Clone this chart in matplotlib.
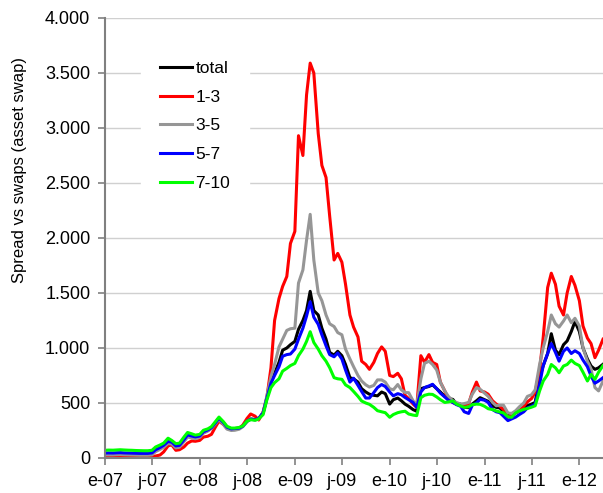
import pandas as pd
import matplotlib.pyplot as plt
from matplotlib.ticker import FuncFormatter

plt.rcParams['font.family'] = ['Liberation Sans', 'DejaVu Sans']

# semi-monthly observations, jan 2007 - apr 2012
dates = pd.date_range('2007-01-01', periods=127, freq='SMS')

total = [40, 40, 40, 42, 43, 41, 40, 39, 38, 37, 37, 37, 40,
         68, 88, 108, 142, 138, 102, 108, 158, 200, 192, 185, 195,
         232, 250, 272, 315, 358, 318, 275, 262, 265, 270, 290, 335,
         355, 350, 360, 410, 545, 690, 770, 870, 980, 1000, 1030, 1060,
         1170, 1250, 1340, 1515, 1340, 1300, 1180, 1080, 960, 935, 970, 930,
         850, 730, 720, 690, 630, 600, 580, 570, 565, 600, 585, 490,
         530, 545, 520, 490, 470, 440, 425, 630, 640, 650, 665, 630,
         600, 560, 540, 533, 490, 490, 460, 458, 490, 520, 548, 530,
         515, 475, 460, 455, 420, 385, 395, 415, 430, 460, 475, 490,
         505, 730, 840, 950, 1130, 980, 940, 1030, 1064, 1150, 1240, 1150,
         1000, 900, 836, 806, 820, 852]

y1_3 = [12, 12, 12, 12, 13, 12, 12, 11, 10, 10, 10, 10, 11,
        18, 27, 55, 110, 120, 70, 75, 100, 135, 155, 152, 160,
        190, 198, 215, 280, 335, 305, 268, 262, 268, 270, 300, 360,
        400, 380, 345, 420, 545, 820, 1250, 1450, 1560, 1650, 1950, 2060,
        2930, 2750, 3300, 3590, 3500, 2950, 2660, 2550, 2200, 1800, 1860, 1780,
        1580, 1300, 1190, 1100, 880, 850, 806, 870, 950, 1010, 970, 750,
        740, 770, 720, 570, 540, 490, 460, 930, 870, 940, 870, 850,
        690, 610, 530, 505, 490, 480, 475, 495, 600, 690, 610, 600,
        580, 520, 490, 470, 440, 370, 395, 410, 427, 470, 510, 540,
        600, 800, 1100, 1550, 1680, 1579, 1380, 1300, 1500, 1650, 1570, 1430,
        1200, 1090, 1040, 912, 980, 1080]

y3_5 = [28, 28, 28, 30, 31, 29, 28, 27, 26, 25, 25, 25, 28,
        58, 78, 98, 132, 128, 92, 98, 148, 190, 182, 175, 188,
        225, 245, 268, 310, 350, 305, 262, 250, 252, 262, 285, 330,
        355, 345, 355, 415, 560, 740, 850, 1010, 1080, 1160, 1175, 1180,
        1590, 1710, 1980, 2215, 1800, 1500, 1430, 1300, 1220, 1195, 1140, 1120,
        990, 900, 830, 750, 700, 665, 645, 660, 710, 710, 690, 630,
        620, 668, 620, 595, 594, 520, 480, 720, 860, 880, 850, 800,
        690, 610, 560, 520, 505, 490, 495, 505, 580, 640, 625, 590,
        560, 505, 475, 480, 480, 410, 405, 430, 465, 500, 560, 575,
        620, 850, 1003, 1150, 1300, 1220, 1190, 1245, 1300, 1230, 1270, 1200,
        1000, 880, 810, 640, 610, 700]

y5_7 = [45, 46, 45, 47, 48, 46, 45, 44, 43, 42, 42, 42, 46,
        75, 95, 115, 150, 145, 110, 115, 165, 210, 200, 192, 200,
        238, 255, 275, 318, 362, 322, 280, 265, 268, 272, 290, 335,
        352, 348, 360, 410, 540, 680, 750, 830, 925, 940, 945, 990,
        1080, 1180, 1290, 1420, 1280, 1215, 1120, 1020, 940, 920, 955, 900,
        800, 690, 725, 660, 605, 545, 545, 595, 640, 668, 650, 600,
        565, 585, 575, 550, 530, 505, 460, 600, 640, 655, 670, 630,
        590, 555, 525, 505, 485, 470, 420, 405, 480, 500, 533, 525,
        505, 440, 420, 412, 380, 340, 355, 372, 395, 420, 455, 470,
        490, 670, 840, 950, 1040, 960, 880, 970, 1000, 950, 975, 950,
        890, 830, 745, 680, 700, 730]

y7_10 = [70, 72, 71, 73, 75, 73, 71, 70, 68, 67, 66, 66, 70,
         100, 118, 135, 180, 160, 130, 135, 190, 232, 220, 208, 215,
         252, 265, 285, 330, 372, 330, 288, 272, 272, 278, 292, 335,
         348, 343, 355, 395, 525, 640, 685, 720, 790, 815, 840, 860,
         930, 990, 1060, 1148, 1050, 990, 930, 880, 821, 730, 720, 715,
         665, 640, 605, 560, 518, 500, 488, 460, 430, 420, 412, 370,
         395, 412, 420, 425, 400, 390, 385, 548, 570, 580, 578, 555,
         530, 505, 510, 518, 490, 473, 460, 465, 485, 490, 488, 470,
         448, 440, 428, 418, 410, 375, 370, 410, 428, 442, 450, 462,
         475, 610, 700, 760, 850, 820, 775, 836, 850, 890, 860, 840,
         780, 700, 760, 715, 780, 840]

series = ['total', '1-3', '3-5', '5-7', '7-10']
colors = ['black', '#ff0000', '#969696', '#0000ff', '#00ff00']

tick_dates = pd.date_range('2007-01-01', '2012-01-01', freq='6MS')
tick_labels = ['e-07', 'j-07', 'e-08', 'j-08', 'e-09', 'j-09',
               'e-10', 'j-10', 'e-11', 'j-11', 'e-12']

fig = plt.figure(figsize=(6.03, 4.93), dpi=100)
ax = fig.add_axes([0.174, 0.071, 0.826, 0.8925])

for name, vals, col in zip(series, [total, y1_3, y3_5, y5_7, y7_10], colors):
    ax.plot(dates, vals, color=col, lw=2.2, label=name)

ax.set_xlim(dates[0], dates[-1])
ax.set_ylim(0, 4000)
ax.set_yticks(range(0, 4001, 500))
ax.yaxis.set_major_formatter(FuncFormatter(lambda v, p: f'{int(v):,}'.replace(',', '.')))
ax.set_xticks(tick_dates)
ax.set_xticklabels(tick_labels)
ax.tick_params(labelsize=13, color='#808080', length=5, width=1.2, direction='out')
ax.tick_params(axis='x', pad=6)
ax.tick_params(axis='y', pad=5.5)

ax.grid(axis='y', color='#d0d0d0', lw=1)
ax.set_axisbelow(True)
for s in ['top', 'right']:
    ax.spines[s].set_visible(False)
for s in ['left', 'bottom']:
    ax.spines[s].set_color('#808080')
    ax.spines[s].set_linewidth(1.5)

ax.set_ylabel('Spread vs swaps (asset swap)', fontsize=12)
ax.yaxis.set_label_coords(-0.157, 0.655)

leg = ax.legend(loc='upper left', bbox_to_anchor=(0.072, 0.946), frameon=True,
                fontsize=12.5, handlelength=1.85, handletextpad=0.2,
                labelspacing=0.78, borderpad=1.1, borderaxespad=0)
leg.get_frame().set_edgecolor('white')
leg.get_frame().set_facecolor('white')
leg.get_frame().set_alpha(1)

fig.savefig('out.png', dpi=100)
